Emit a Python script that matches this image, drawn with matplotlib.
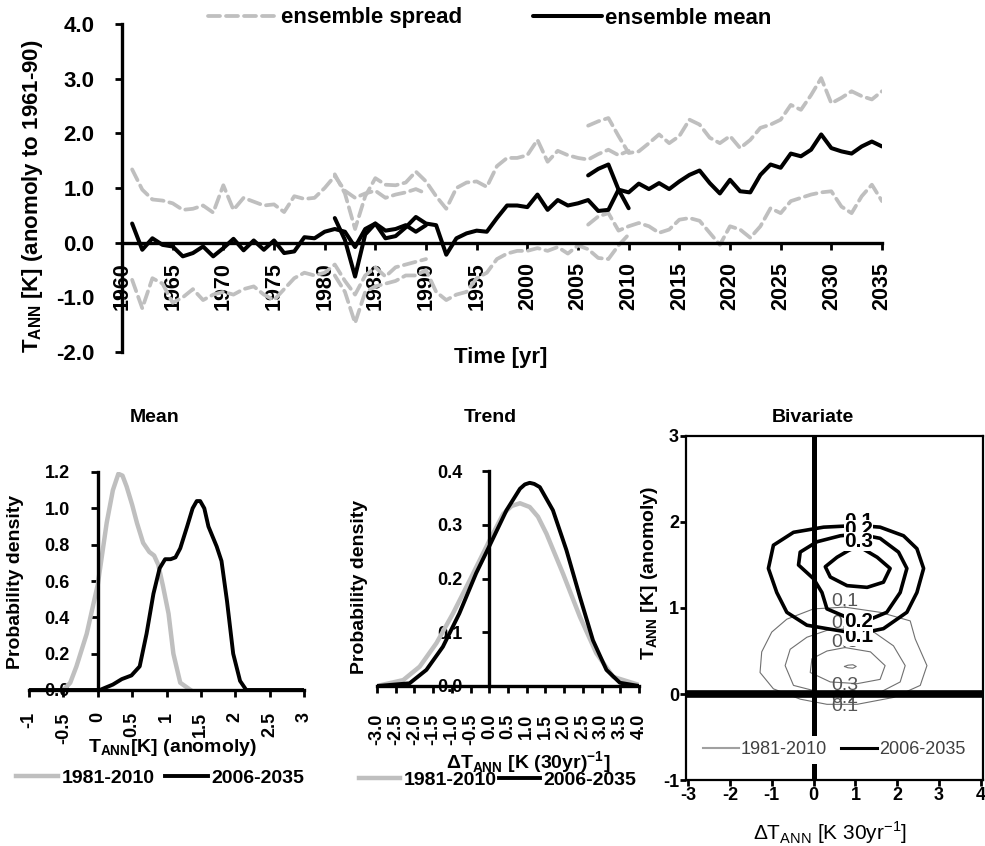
import numpy as np
import matplotlib
matplotlib.use("Agg")
import matplotlib.pyplot as plt
from matplotlib.lines import Line2D

W, H = 985, 846

plt.rcParams["font.family"] = ["Liberation Sans", "DejaVu Sans"]
plt.rcParams["font.weight"] = "bold"
plt.rcParams["mathtext.fontset"] = "custom"
plt.rcParams["mathtext.rm"] = "Liberation Sans:bold"
plt.rcParams["mathtext.bf"] = "Liberation Sans:bold"
plt.rcParams["mathtext.sf"] = "Liberation Sans:weight=normal"

GRAY = "#bfbfbf"

# ---- time series: three 30-year windows (mean, upper and lower spread)
years_a = np.arange(1961, 1991)
mean_a = [0.35, -0.13, 0.08, -0.04, -0.07, -0.25, -0.19, -0.07, -0.25, -0.1,
          0.07, -0.14, 0.04, -0.13, 0.04, -0.19, -0.16, 0.1, 0.08, 0.2,
          0.25, 0.2, -0.08, 0.25, 0.35, 0.22, 0.25, 0.32, 0.2, 0.32]
upper_a = [1.34, 0.97, 0.79, 0.77, 0.72, 0.6, 0.62, 0.68, 0.55, 1.05,
           0.6, 0.82, 0.75, 0.68, 0.7, 0.56, 0.85, 0.8, 0.82, 1.0,
           1.22, 0.95, 0.82, 0.9, 0.95, 0.82, 0.88, 0.92, 0.98, 0.9]
lower_a = [-0.68, -1.2, -0.65, -0.75, -1.1, -1.0, -0.85, -1.05, -0.95, -0.9,
           -0.95, -0.85, -0.8, -0.95, -1.05, -0.85, -0.65, -0.55, -0.6, -0.55,
           -0.4, -0.7, -0.95, -0.6, -0.45, -0.62, -0.45, -0.4, -0.35, -0.3]

years_b = np.arange(1981, 2011)
mean_b = [0.45, 0.05, -0.62, 0.15, 0.35, 0.08, 0.12, 0.28, 0.47, 0.35,
          0.32, -0.22, 0.08, 0.17, 0.22, 0.2, 0.45, 0.68, 0.68, 0.65,
          0.88, 0.6, 0.78, 0.68, 0.72, 0.78, 0.58, 0.6, 0.97, 0.63]
upper_b = [1.25, 0.9, 0.25, 0.85, 1.18, 1.06, 1.05, 1.1, 1.3, 1.12,
           0.85, 0.62, 1.0, 1.1, 1.12, 1.02, 1.4, 1.55, 1.55, 1.6,
           1.88, 1.48, 1.68, 1.6, 1.55, 1.52, 1.62, 1.7, 1.6, 1.68]
lower_b = [-0.6, -0.9, -1.47, -0.9, -0.8, -0.75, -0.7, -0.6, -0.6, -0.5,
           -0.9, -1.05, -0.95, -0.9, -0.65, -0.55, -0.3, -0.2, -0.15, -0.15,
           -0.1, -0.15, -0.08, -0.2, -0.05, -0.12, -0.28, -0.3, -0.05, 0.15]

years_c = np.arange(2006, 2036)
mean_c = [1.23, 1.35, 1.43, 0.97, 0.92, 1.08, 0.98, 1.09, 0.98, 1.12,
          1.24, 1.32, 1.09, 0.9, 1.15, 0.94, 0.92, 1.24, 1.43, 1.37,
          1.63, 1.58, 1.7, 1.98, 1.73, 1.67, 1.63, 1.76, 1.85, 1.76]
upper_c = [2.14, 2.22, 2.28, 1.95, 1.64, 1.67, 1.82, 1.98, 1.82, 1.95,
           2.25, 2.16, 1.92, 1.82, 1.95, 1.73, 1.88, 2.1, 2.16, 2.25,
           2.52, 2.43, 2.7, 3.01, 2.55, 2.65, 2.77, 2.68, 2.62, 2.77]
lower_c = [0.33, 0.48, 0.54, 0.22, 0.3, 0.36, 0.3, 0.18, 0.24, 0.42,
           0.45, 0.4, 0.18, -0.04, 0.3, 0.24, 0.09, 0.3, 0.63, 0.54,
           0.76, 0.82, 0.88, 0.92, 0.94, 0.66, 0.54, 0.85, 1.06, 0.76]

year_ticks = np.arange(1960, 2036, 5)
temp_ticks = np.arange(-2, 5, 1)

# ---- marginal densities
labels_period = ["1981-2010", "2006-2035"]

mean_x_hist = [-0.5, -0.4, -0.31, -0.16, 0.0, 0.13, 0.22, 0.3, 0.36, 0.42, 0.5,
               0.57, 0.66, 0.75, 0.82, 0.88, 0.95, 1.03, 1.1, 1.2, 1.35]
mean_y_hist = [0.0, 0.04, 0.13, 0.31, 0.58, 0.92, 1.1, 1.19, 1.18, 1.12, 1.02,
               0.92, 0.81, 0.76, 0.74, 0.69, 0.57, 0.42, 0.2, 0.04, 0.0]
mean_x_proj = [-1.0, 0.03, 0.22, 0.35, 0.42, 0.49, 0.61, 0.71, 0.81, 0.9, 0.98,
               1.06, 1.13, 1.2, 1.3, 1.38, 1.44, 1.49, 1.55, 1.61, 1.73, 1.8,
               1.88, 1.97, 2.07, 2.16, 3.0]
mean_y_proj = [0.0, 0.0, 0.03, 0.06, 0.07, 0.08, 0.13, 0.31, 0.53, 0.67, 0.72,
               0.72, 0.73, 0.78, 0.9, 1.0, 1.04, 1.04, 1.0, 0.9, 0.79, 0.71,
               0.49, 0.2, 0.05, 0.0, 0.0]
mean_xticks = np.arange(-1, 3.01, 0.5)
mean_yticks = np.arange(0, 1.21, 0.2)

trend_x_hist = [-3.0, -2.3, -1.86, -1.41, -0.97, -0.52, 0.0, 0.37, 0.6, 0.82,
                1.08, 1.3, 1.53, 1.97, 2.42, 2.86, 3.31, 4.0]
trend_y_hist = [0.0, 0.011, 0.036, 0.08, 0.135, 0.197, 0.27, 0.32, 0.335, 0.34,
                0.333, 0.315, 0.283, 0.209, 0.129, 0.061, 0.017, 0.002]
trend_x_proj = [-3.0, -2.13, -1.68, -1.24, -0.8, -0.35, 0.0, 0.46, 0.82, 0.95,
                1.08, 1.2, 1.35, 1.7, 2.06, 2.42, 2.77, 3.13, 3.49, 4.0]
trend_y_proj = [0.0, 0.005, 0.03, 0.073, 0.135, 0.21, 0.26, 0.327, 0.367, 0.375,
                0.378, 0.376, 0.37, 0.327, 0.253, 0.166, 0.085, 0.03, 0.006, 0.0]
trend_xticks = np.arange(-3, 4.01, 0.5)
trend_yticks = np.arange(0, 0.41, 0.1)

# ---- bivariate density contours (trend, mean)
hist_levels = ["0.1", "0.2", "0.3"]
hist_contours = [
    ([0.75, 1.59, 2.31, 2.43, 2.71, 2.55, 1.91, 1.04, 0.75, 0.32, -0.32, -0.96, -1.28, -1.24, -1.0, -0.64, 0.0, 0.75],
     [1.01, 0.95, 0.85, 0.64, 0.33, 0.1, -0.04, -0.12, -0.12, -0.12, -0.06, 0.06, 0.25, 0.49, 0.72, 0.87, 0.99, 1.01]),
    ([0.75, 1.44, 1.91, 2.19, 2.07, 1.59, 0.88, 0.75, 0.16, -0.48, -0.68, -0.56, -0.16, 0.32, 0.75],
     [0.76, 0.72, 0.56, 0.33, 0.14, 0.02, -0.02, -0.02, 0.02, 0.1, 0.33, 0.52, 0.66, 0.74, 0.76]),
    ([0.75, 1.36, 1.71, 1.59, 1.04, 0.75, 0.4, -0.08, -0.04, 0.32, 0.75],
     [0.54, 0.49, 0.33, 0.17, 0.12, 0.13, 0.14, 0.25, 0.41, 0.5, 0.54]),
]
hist_label_idx = [(0, 8), (0, 7), (0, 5)]
hist_peak_x = [0.74, 0.82, 0.94, 1.02, 0.94, 0.82, 0.74]
hist_peak_y = [0.32, 0.335, 0.34, 0.32, 0.3, 0.305, 0.32]

proj_levels = ["0.1", "0.2", "0.3"]
proj_contours = [
    ([1.07, 1.59, 2.15, 2.47, 2.63, 2.47, 2.23, 1.67, 1.07, 0.32, -0.16, -0.64, -0.88, -1.08, -0.96, -0.48, 0.24, 1.07],
     [1.96, 1.94, 1.84, 1.69, 1.46, 1.18, 0.95, 0.76, 0.70, 0.76, 0.8, 0.95, 1.18, 1.46, 1.73, 1.88, 1.94, 1.96]),
    ([1.07, 1.59, 2.03, 2.23, 2.07, 1.75, 1.36, 1.07, 0.8, 0.32, 0.2, 0.0, -0.36, -0.32, 0.08, 0.64, 1.07],
     [1.86, 1.81, 1.65, 1.46, 1.18, 0.95, 0.87, 0.87, 0.89, 0.99, 1.18, 1.34, 1.5, 1.65, 1.77, 1.84, 1.86]),
    ([1.07, 1.52, 1.83, 1.67, 1.28, 0.8, 0.4, 0.28, 0.56, 0.84, 1.07],
     [1.72, 1.59, 1.46, 1.30, 1.24, 1.26, 1.36, 1.48, 1.59, 1.67, 1.72]),
]
proj_label_idx = [(0, 8), (0, 7), (0,)]
bivar_xticks = np.arange(-3, 5, 1)
bivar_yticks = np.arange(-1, 4, 1)


fig = plt.figure(figsize=(W / 100, H / 100), dpi=100)


def px_axes(left, top, right, bottom):
    return fig.add_axes([left / W, 1 - bottom / H, (right - left) / W, (bottom - top) / H])


def px_text(x, y, s, **kw):
    kw.setdefault("ha", "center")
    kw.setdefault("va", "center")
    return fig.text(x / W, 1 - y / H, s, **kw)


# ================= top: time series =================
ax = px_axes(122, 24, 882, 352)
spread_kw = dict(color=GRAY, lw=2.7, dashes=(3.2, 1.6), dash_capstyle="round",
                 solid_joinstyle="round")
mean_kw = dict(color="black", lw=2.9, solid_joinstyle="round", solid_capstyle="round")
for yrs, up, lo in [(years_a, upper_a, lower_a), (years_b, upper_b, lower_b),
                    (years_c, upper_c, lower_c)]:
    ax.plot(yrs, up, **spread_kw)
    ax.plot(yrs, lo, **spread_kw)
for yrs, m in [(years_a, mean_a), (years_b, mean_b), (years_c, mean_c)]:
    ax.plot(yrs, m, **mean_kw)

ax.set_xlim(1960, 2035)
ax.set_ylim(-2, 4)
ax.spines["top"].set_visible(False)
ax.spines["right"].set_visible(False)
ax.spines["bottom"].set_position(("data", 0))
for s in ("left", "bottom"):
    ax.spines[s].set_linewidth(2.4)
ax.set_xticks(year_ticks)
ax.set_xticklabels([str(y) for y in year_ticks], rotation=90, fontsize=15.5, fontweight="bold")
ax.set_yticks(temp_ticks)
ax.set_yticklabels([f"{v:.1f}" for v in temp_ticks], fontsize=16, fontweight="bold")
ax.tick_params(axis="x", direction="out", length=5, width=2, pad=9)
ax.tick_params(axis="y", direction="out", length=5, width=2, pad=15)
ax.patch.set_alpha(0)

px_text(33, 196, r"T$_{\mathrm{ANN}}$ [K] (anomoly to 1961-90)", rotation=90,
        fontsize=16, fontweight="bold")
px_text(501, 357, "Time [yr]", fontsize=16, fontweight="bold")

handles = [Line2D([], [], **spread_kw), Line2D([], [], **mean_kw)]
fig.legend(handles, ["ensemble spread", "ensemble mean"], loc="center",
           bbox_to_anchor=(490 / W, 1 - 18 / H), ncol=2, frameon=False,
           prop=dict(size=16, weight="bold"), handlelength=3.1, handletextpad=0.15,
           columnspacing=3.2)


def density_axes(a, xticks, yticks, xfmt, xpad, ypad):
    a.spines["top"].set_visible(False)
    a.spines["right"].set_visible(False)
    a.spines["left"].set_position(("data", 0))
    for s in ("left", "bottom"):
        a.spines[s].set_linewidth(2.4)
    a.set_xticks(xticks)
    a.set_xticklabels([xfmt(v) for v in xticks], rotation=90, fontsize=13, fontweight="bold")
    a.set_yticks(yticks)
    a.set_yticklabels([f"{v:.1f}" for v in yticks], fontsize=13, fontweight="bold")
    a.tick_params(axis="x", direction="out", length=5, width=2, pad=xpad)
    a.tick_params(axis="y", direction="out", length=5, width=2, pad=ypad)
    a.patch.set_alpha(0)


# ================= Mean =================
axm = px_axes(29, 472, 304, 690)
axm.plot(mean_x_hist, mean_y_hist, color=GRAY, lw=3.2, solid_joinstyle="round")
axm.plot(mean_x_proj, mean_y_proj, color="black", lw=2.8, solid_joinstyle="round")
axm.set_xlim(-1, 3)
axm.set_ylim(0, 1.2)
density_axes(axm, mean_xticks, mean_yticks, lambda v: f"{v:g}", 11, 15)
px_text(155, 418, "Mean", fontsize=14, fontweight="bold")
px_text(16, 582, "Probability density", rotation=90, fontsize=14, fontweight="bold")
px_text(172, 747, r"T$_{\mathrm{ANN}}$[K] (anomoly)", fontsize=14, fontweight="bold")
hm = [Line2D([], [], color=GRAY, lw=3.2), Line2D([], [], color="black", lw=2.8)]
fig.legend(hm, labels_period, loc="center", bbox_to_anchor=(160 / W, 1 - 778 / H), ncol=2,
           frameon=False, prop=dict(size=14, weight="bold"), handlelength=2.2,
           handletextpad=0.2, columnspacing=0.5)

# ================= Trend =================
axt = px_axes(377, 471, 639, 686)
axt.plot(trend_x_hist, trend_y_hist, color=GRAY, lw=3.2, solid_joinstyle="round")
axt.plot(trend_x_proj, trend_y_proj, color="black", lw=2.8, solid_joinstyle="round")
axt.set_xlim(-3, 4)
axt.set_ylim(0, 0.4)
density_axes(axt, trend_xticks, trend_yticks, lambda v: f"{v:.1f}", 15, 14)
px_text(490, 418, "Trend", fontsize=14, fontweight="bold")
px_text(360, 587, "Probability density", rotation=90, fontsize=14, fontweight="bold")
px_text(528, 763, r"ΔT$_{\mathrm{ANN}}$ [K (30yr)$^{\mathrm{-1}}$]", fontsize=14,
        fontweight="bold")
fig.legend(hm, labels_period, loc="center", bbox_to_anchor=(498 / W, 1 - 780 / H), ncol=2,
           frameon=False, prop=dict(size=14, weight="bold"), handlelength=2.1,
           handletextpad=0.2, columnspacing=0.1)

# ================= Bivariate =================
axb = px_axes(686, 436, 983, 780)
for (cx, cy), lab, idxs in zip(hist_contours, hist_levels, hist_label_idx):
    axb.plot(cx, cy, color="#707070", lw=0.8, zorder=2)
    axb.text(cx[idxs[0]], cy[idxs[0]] + 0.06, lab, ha="center", va="center", fontsize=14,
             color="#555555", fontweight="normal", zorder=3)
    axb.text(cx[idxs[1]], cy[idxs[1]] - 0.03, lab, ha="center", va="center", fontsize=14,
             color="#555555", fontweight="normal", zorder=3)
axb.plot(hist_peak_x, hist_peak_y, color="#707070", lw=0.8, zorder=2)
for (cx, cy), lab, idxs in zip(proj_contours, proj_levels, proj_label_idx):
    axb.plot(cx, cy, color="black", lw=2.6, zorder=4, solid_joinstyle="round")
    for k, i in enumerate(idxs):
        axb.text(cx[i], cy[i] + (0.05 if k == 0 else -0.03), lab, ha="center", va="center",
                 fontsize=15, color="black", fontweight="bold", zorder=5,
                 bbox=dict(facecolor="white", edgecolor="none", pad=0.1))
axb.axhline(0, color="black", lw=5.5, zorder=6)
axb.axvline(0, color="black", lw=3.6, zorder=6)
axb.set_xlim(-3.05, 4.05)
axb.set_ylim(-1, 3)
for s in axb.spines.values():
    s.set_linewidth(1.6)
axb.set_xticks(bivar_xticks)
axb.set_xticklabels([f"{v:d}" for v in bivar_xticks], fontsize=13, fontweight="bold")
axb.set_yticks(bivar_yticks)
axb.set_yticklabels([f"{v:d}" for v in bivar_yticks], fontsize=13, fontweight="bold")
axb.tick_params(direction="out", length=4, width=2, pad=1)
hb = [Line2D([], [], color="#a0a0a0", lw=1.5), Line2D([], [], color="black", lw=2.2)]
lg = axb.legend(hb, labels_period, loc="center", bbox_to_anchor=(834 / W, 1 - 750 / H),
                bbox_transform=fig.transFigure, ncol=2, frameon=True, fancybox=False,
                prop=dict(size=13, weight="normal"), handlelength=2.0,
                handletextpad=0.1, columnspacing=0.8, borderpad=0.3)
lg.get_frame().set_edgecolor("none")
lg.get_frame().set_facecolor("white")
lg.get_frame().set_alpha(1)
lg.set_zorder(10)
for t in lg.get_texts():
    t.set_color("#404040")
px_text(813, 418, "Bivariate", fontsize=14, fontweight="bold")
px_text(650, 573, r"T$_{\mathrm{ANN}}$ [K] (anomoly)", rotation=90, fontsize=14,
        fontweight="bold")
px_text(830, 833, r"ΔT$_{\mathsf{ANN}}$ [K 30yr$^{\mathsf{-1}}$]", fontsize=15,
        fontweight="normal")

fig.savefig("out.png", dpi=100)
